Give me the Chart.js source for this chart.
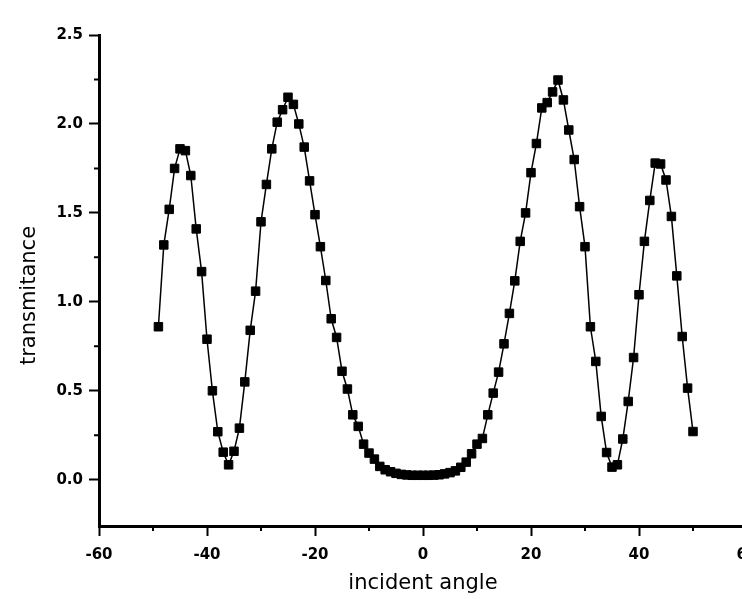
<!DOCTYPE html>
<html>
<head>
<meta charset="utf-8">
<script src="https://cdn.jsdelivr.net/npm/chart.js@4.4.0/dist/chart.umd.min.js"></script>
<style>
  html, body { margin: 0; padding: 0; background: #fff; overflow: hidden; }
  #wrap { width: 762px; height: 599px; }
</style>
</head>
<body>
<div id="wrap"><canvas id="myChart" width="762" height="599"></canvas></div>
<script>
// incident angle (deg)
var angles = [
  -49, -48, -47, -46, -45, -44, -43, -42, -41, -40,
  -39, -38, -37, -36, -35, -34, -33, -32, -31, -30,
  -29, -28, -27, -26, -25, -24, -23, -22, -21, -20,
  -19, -18, -17, -16, -15, -14, -13, -12, -11, -10,
  -9, -8, -7, -6, -5, -4, -3, -2, -1, 0,
  1, 2, 3, 4, 5, 6, 7, 8, 9, 10,
  11, 12, 13, 14, 15, 16, 17, 18, 19, 20,
  21, 22, 23, 24, 25, 26, 27, 28, 29, 30,
  31, 32, 33, 34, 35, 36, 37, 38, 39, 40,
  41, 42, 43, 44, 45, 46, 47, 48, 49, 50
];

var transmitance = [
  0.86, 1.32, 1.52, 1.75, 1.86, 1.85, 1.71, 1.41, 1.17, 0.79,
  0.50, 0.27, 0.155, 0.084, 0.16, 0.29, 0.55, 0.84, 1.06, 1.45,
  1.66, 1.86, 2.01, 2.08, 2.15, 2.11, 2.00, 1.87, 1.68, 1.49,
  1.31, 1.12, 0.905, 0.80, 0.61, 0.51, 0.365, 0.30, 0.20, 0.15,
  0.116, 0.075, 0.056, 0.045, 0.036, 0.030, 0.027, 0.025, 0.025, 0.025,
  0.025, 0.026, 0.028, 0.033, 0.040, 0.050, 0.070, 0.099, 0.146, 0.20,
  0.232, 0.365, 0.487, 0.605, 0.764, 0.935, 1.118, 1.34, 1.50, 1.726,
  1.89, 2.09, 2.12, 2.18, 2.247, 2.135, 1.966, 1.80, 1.535, 1.31,
  0.86, 0.665, 0.356, 0.153, 0.071, 0.084, 0.229, 0.44, 0.687, 1.04,
  1.34, 1.57, 1.78, 1.775, 1.685, 1.48, 1.146, 0.805, 0.515, 0.271
];

var xTicks = [-60, -40, -20, 0, 20, 40, 60];
var xMinorTicks = [-50, -30, -10, 10, 30, 50];
var yTicks = [0, 0.5, 1, 1.5, 2, 2.5];
var yMinorTicks = [0.25, 0.75, 1.25, 1.75, 2.25];

var tickFont = { family: 'DejaVu Sans', size: 15, weight: 'bold' };
var titleFont = { family: 'DejaVu Sans', size: 21, weight: 'normal' };

// short minor ticks on both axes, plus the y title (sits a bit below centre)
var axisExtras = {
  id: 'axisExtras',
  afterDraw: function(chart) {
    var ctx = chart.ctx, xs = chart.scales.x, ys = chart.scales.y;
    ctx.save();
    ctx.strokeStyle = '#000';
    ctx.lineWidth = 2;
    ctx.beginPath();
    xMinorTicks.forEach(function(v) {
      var px = xs.getPixelForValue(v);
      ctx.moveTo(px, xs.top);
      ctx.lineTo(px, xs.top + 5);
    });
    yMinorTicks.forEach(function(v) {
      var py = ys.getPixelForValue(v);
      ctx.moveTo(ys.right, py);
      ctx.lineTo(ys.right - 5, py);
    });
    ctx.stroke();

    ctx.fillStyle = '#000';
    ctx.font = 'normal 21px "DejaVu Sans"';
    ctx.textAlign = 'center';
    ctx.textBaseline = 'middle';
    ctx.translate(ys.left + 30, (ys.top + ys.bottom) / 2 + 15);
    ctx.rotate(-Math.PI / 2);
    ctx.fillText('transmitance', 0, 0);
    ctx.restore();
  }
};

var ctx = document.getElementById('myChart').getContext('2d');

var myChart = new Chart(ctx, {
  type: 'line',
  data: {
    datasets: [{
      label: 'transmitance',
      data: angles.map(function(a, i) { return { x: a, y: transmitance[i] }; }),
      borderColor: '#000',
      backgroundColor: '#000',
      borderWidth: 1.5,
      pointStyle: 'rect',
      pointRadius: 6,
      pointBorderWidth: 1,
      tension: 0,
      fill: false
    }]
  },
  options: {
    responsive: false,
    animation: false,
    layout: { padding: { left: 0, right: 15, top: 35, bottom: 0 } },
    plugins: {
      legend: { display: false },
      tooltip: { enabled: false }
    },
    scales: {
      x: {
        type: 'linear',
        min: -60,
        max: 60,
        afterBuildTicks: function(scale) {
          scale.ticks = xTicks.map(function(v) { return { value: v }; });
        },
        afterFit: function(scale) {
          scale.height = 73;
          scale.paddingLeft = 0;
          scale.paddingRight = 0;
        },
        ticks: {
          color: '#000',
          font: tickFont,
          padding: 10,
          maxRotation: 0,
          callback: function(v) { return String(v); }
        },
        grid: { drawOnChartArea: false, drawTicks: true, tickLength: 10, tickWidth: 2, tickColor: '#000' },
        border: { color: '#000', width: 3 },
        title: { display: true, text: 'incident angle', color: '#000', font: titleFont, padding: { top: 0, bottom: 3 } }
      },
      y: {
        min: -0.26,
        max: 2.5,
        afterBuildTicks: function(scale) {
          scale.ticks = yTicks.map(function(v) { return { value: v }; });
        },
        afterFit: function(scale) {
          scale.width = 99;
          scale.paddingTop = 0;
          scale.paddingBottom = 0;
        },
        ticks: {
          color: '#000',
          font: tickFont,
          padding: 6,
          callback: function(v) { return v.toFixed(1); }
        },
        grid: { drawOnChartArea: false, drawTicks: true, tickLength: 10, tickWidth: 2, tickColor: '#000' },
        border: { color: '#000', width: 3 },
        title: { display: false }
      }
    }
  },
  plugins: [axisExtras]
});
</script>
</body>
</html>
